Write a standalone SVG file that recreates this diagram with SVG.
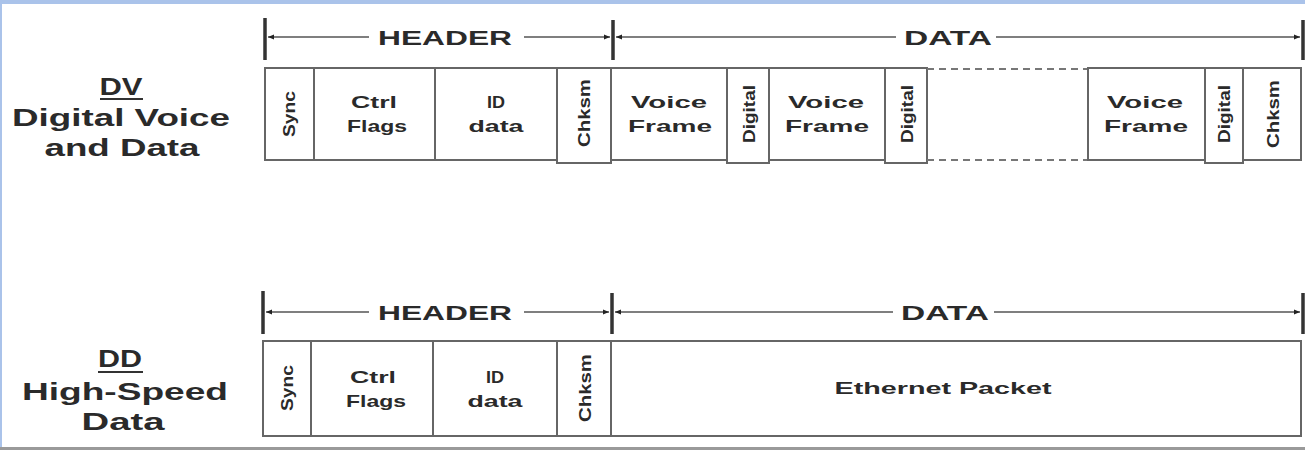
<svg xmlns="http://www.w3.org/2000/svg" width="1305" height="450" viewBox="0 0 1305 450">
<defs>
<marker id="ah" viewBox="0 0 10 10" refX="10" refY="5" markerWidth="8" markerHeight="6" markerUnits="userSpaceOnUse" orient="auto-start-reverse">
<path d="M0,1 L10,5 L0,9 z" fill="#222"/>
</marker>
<style>
.cell{fill:#fff;stroke:#666;stroke-width:2}
.dash{fill:none;stroke:#777;stroke-width:2;stroke-dasharray:7,5}
.tick{stroke:#333;stroke-width:3.5}
.dim{stroke:#555;stroke-width:1.6;fill:none}
.t{font-family:"Liberation Sans",Arial,sans-serif;font-weight:bold;fill:#2a2a2a;text-anchor:middle}
.lbl{font-size:24px}
.hd{font-size:21px}
.c{font-size:17px}
.r{font-size:17px}
</style>
</defs>
<rect x="0" y="0" width="1305" height="450" fill="#fff"/>
<rect x="0" y="0" width="1305" height="4" fill="#aac3ea"/>
<rect x="0" y="0" width="2" height="450" fill="#aac3ea"/>
<rect x="0" y="447" width="1305" height="3" fill="#9a9a9a"/>

<g id="label-dv">
<text class="t lbl" x="121" y="95" textLength="43" lengthAdjust="spacingAndGlyphs">DV</text>
<line x1="100" y1="99" x2="143" y2="99" stroke="#333" stroke-width="2"/>
<text class="t lbl" x="121" y="126" textLength="218" lengthAdjust="spacingAndGlyphs">Digital Voice</text>
<text class="t lbl" x="122" y="156" textLength="155" lengthAdjust="spacingAndGlyphs">and Data</text>
</g>
<g id="label-dd">
<text class="t lbl" x="120" y="367" textLength="44" lengthAdjust="spacingAndGlyphs">DD</text>
<line x1="98" y1="372" x2="143" y2="372" stroke="#333" stroke-width="2"/>
<text class="t lbl" x="125" y="400" textLength="206" lengthAdjust="spacingAndGlyphs">High-Speed</text>
<text class="t lbl" x="123" y="430" textLength="83" lengthAdjust="spacingAndGlyphs">Data</text>
</g>

<g id="connectors">
<line class="tick" x1="265" y1="18" x2="265" y2="60"/>
<line class="tick" x1="613" y1="20" x2="613" y2="60"/>
<line class="tick" x1="1303" y1="20" x2="1303" y2="60"/>
<line class="dim" x1="369" y1="37" x2="268" y2="37" marker-end="url(#ah)"/>
<line class="dim" x1="524" y1="37" x2="610" y2="37" marker-end="url(#ah)"/>
<line class="dim" x1="896" y1="37" x2="616" y2="37" marker-end="url(#ah)"/>
<line class="dim" x1="996" y1="37" x2="1300" y2="37" marker-end="url(#ah)"/>
<line class="tick" x1="263" y1="291" x2="263" y2="334"/>
<line class="tick" x1="612" y1="293" x2="612" y2="334"/>
<line class="tick" x1="1303" y1="293" x2="1303" y2="334"/>
<line class="dim" x1="369" y1="312" x2="266" y2="312" marker-end="url(#ah)"/>
<line class="dim" x1="524" y1="312" x2="609" y2="312" marker-end="url(#ah)"/>
<line class="dim" x1="893" y1="312" x2="615" y2="312" marker-end="url(#ah)"/>
<line class="dim" x1="994" y1="312" x2="1300" y2="312" marker-end="url(#ah)"/>
</g>

<g id="dims-text">
<text class="t hd" x="445" y="45" textLength="134" lengthAdjust="spacingAndGlyphs">HEADER</text>
<text class="t hd" x="948" y="45" textLength="88" lengthAdjust="spacingAndGlyphs">DATA</text>
<text class="t hd" x="445" y="320" textLength="134" lengthAdjust="spacingAndGlyphs">HEADER</text>
<text class="t hd" x="945" y="320" textLength="88" lengthAdjust="spacingAndGlyphs">DATA</text>
</g>

<g id="dv-frame">
<g id="dv-sync"><rect class="cell" x="265" y="68" width="49" height="92"/><text class="t r" transform="translate(295,114) rotate(-90)" textLength="46" lengthAdjust="spacingAndGlyphs">Sync</text></g>
<g id="dv-ctrl"><rect class="cell" x="314" y="68" width="121" height="92"/><text class="t c" x="374" y="108" textLength="46" lengthAdjust="spacingAndGlyphs">Ctrl</text><text class="t c" x="377" y="132" textLength="60" lengthAdjust="spacingAndGlyphs">Flags</text></g>
<g id="dv-id"><rect class="cell" x="435" y="68" width="122" height="92"/><text class="t c" x="496" y="108" textLength="18" lengthAdjust="spacingAndGlyphs">ID</text><text class="t c" x="496" y="132" textLength="55" lengthAdjust="spacingAndGlyphs">data</text></g>
<g id="dv-chksm"><rect class="cell" x="557" y="68" width="54" height="95"/><text class="t r" transform="translate(590,113) rotate(-90)" textLength="68" lengthAdjust="spacingAndGlyphs">Chksm</text></g>
<g id="dv-vf1"><rect class="cell" x="611" y="68" width="116" height="92"/><text class="t c" x="669" y="108" textLength="76" lengthAdjust="spacingAndGlyphs">Voice</text><text class="t c" x="670" y="132" textLength="84" lengthAdjust="spacingAndGlyphs">Frame</text></g>
<g id="dv-dig1"><rect class="cell" x="727" y="68" width="42" height="95"/><text class="t r" transform="translate(755,114) rotate(-90)" textLength="58" lengthAdjust="spacingAndGlyphs">Digital</text></g>
<g id="dv-vf2"><rect class="cell" x="769" y="68" width="116" height="92"/><text class="t c" x="826" y="108" textLength="76" lengthAdjust="spacingAndGlyphs">Voice</text><text class="t c" x="827" y="132" textLength="84" lengthAdjust="spacingAndGlyphs">Frame</text></g>
<g id="dv-dig2"><rect class="cell" x="885" y="68" width="42" height="95"/><text class="t r" transform="translate(913,114) rotate(-90)" textLength="58" lengthAdjust="spacingAndGlyphs">Digital</text></g>
<g id="dv-gap"><line class="dash" x1="927" y1="69" x2="1088" y2="69"/><line class="dash" x1="927" y1="160" x2="1088" y2="160"/></g>
<g id="dv-vf3"><rect class="cell" x="1088" y="68" width="117" height="92"/><text class="t c" x="1145" y="108" textLength="76" lengthAdjust="spacingAndGlyphs">Voice</text><text class="t c" x="1146" y="132" textLength="84" lengthAdjust="spacingAndGlyphs">Frame</text></g>
<g id="dv-dig3"><rect class="cell" x="1205" y="68" width="38" height="95"/><text class="t r" transform="translate(1230,114) rotate(-90)" textLength="58" lengthAdjust="spacingAndGlyphs">Digital</text></g>
<g id="dv-chksm2"><rect class="cell" x="1243" y="68" width="58" height="92"/><text class="t r" transform="translate(1279,114) rotate(-90)" textLength="68" lengthAdjust="spacingAndGlyphs">Chksm</text></g>
</g>

<g id="dd-frame">
<g id="dd-sync"><rect class="cell" x="263" y="341" width="48" height="95"/><text class="t r" transform="translate(293,388) rotate(-90)" textLength="46" lengthAdjust="spacingAndGlyphs">Sync</text></g>
<g id="dd-ctrl"><rect class="cell" x="311" y="341" width="122" height="95"/><text class="t c" x="373" y="383" textLength="46" lengthAdjust="spacingAndGlyphs">Ctrl</text><text class="t c" x="376" y="407" textLength="60" lengthAdjust="spacingAndGlyphs">Flags</text></g>
<g id="dd-id"><rect class="cell" x="433" y="341" width="124" height="95"/><text class="t c" x="495" y="383" textLength="18" lengthAdjust="spacingAndGlyphs">ID</text><text class="t c" x="495" y="407" textLength="55" lengthAdjust="spacingAndGlyphs">data</text></g>
<g id="dd-chksm"><rect class="cell" x="557" y="341" width="54" height="95"/><text class="t r" transform="translate(591,388) rotate(-90)" textLength="68" lengthAdjust="spacingAndGlyphs">Chksm</text></g>
<g id="dd-eth"><rect class="cell" x="611" y="341" width="690" height="95"/><text class="t c" x="943" y="394" textLength="217" lengthAdjust="spacingAndGlyphs">Ethernet Packet</text></g>
</g>
</svg>
